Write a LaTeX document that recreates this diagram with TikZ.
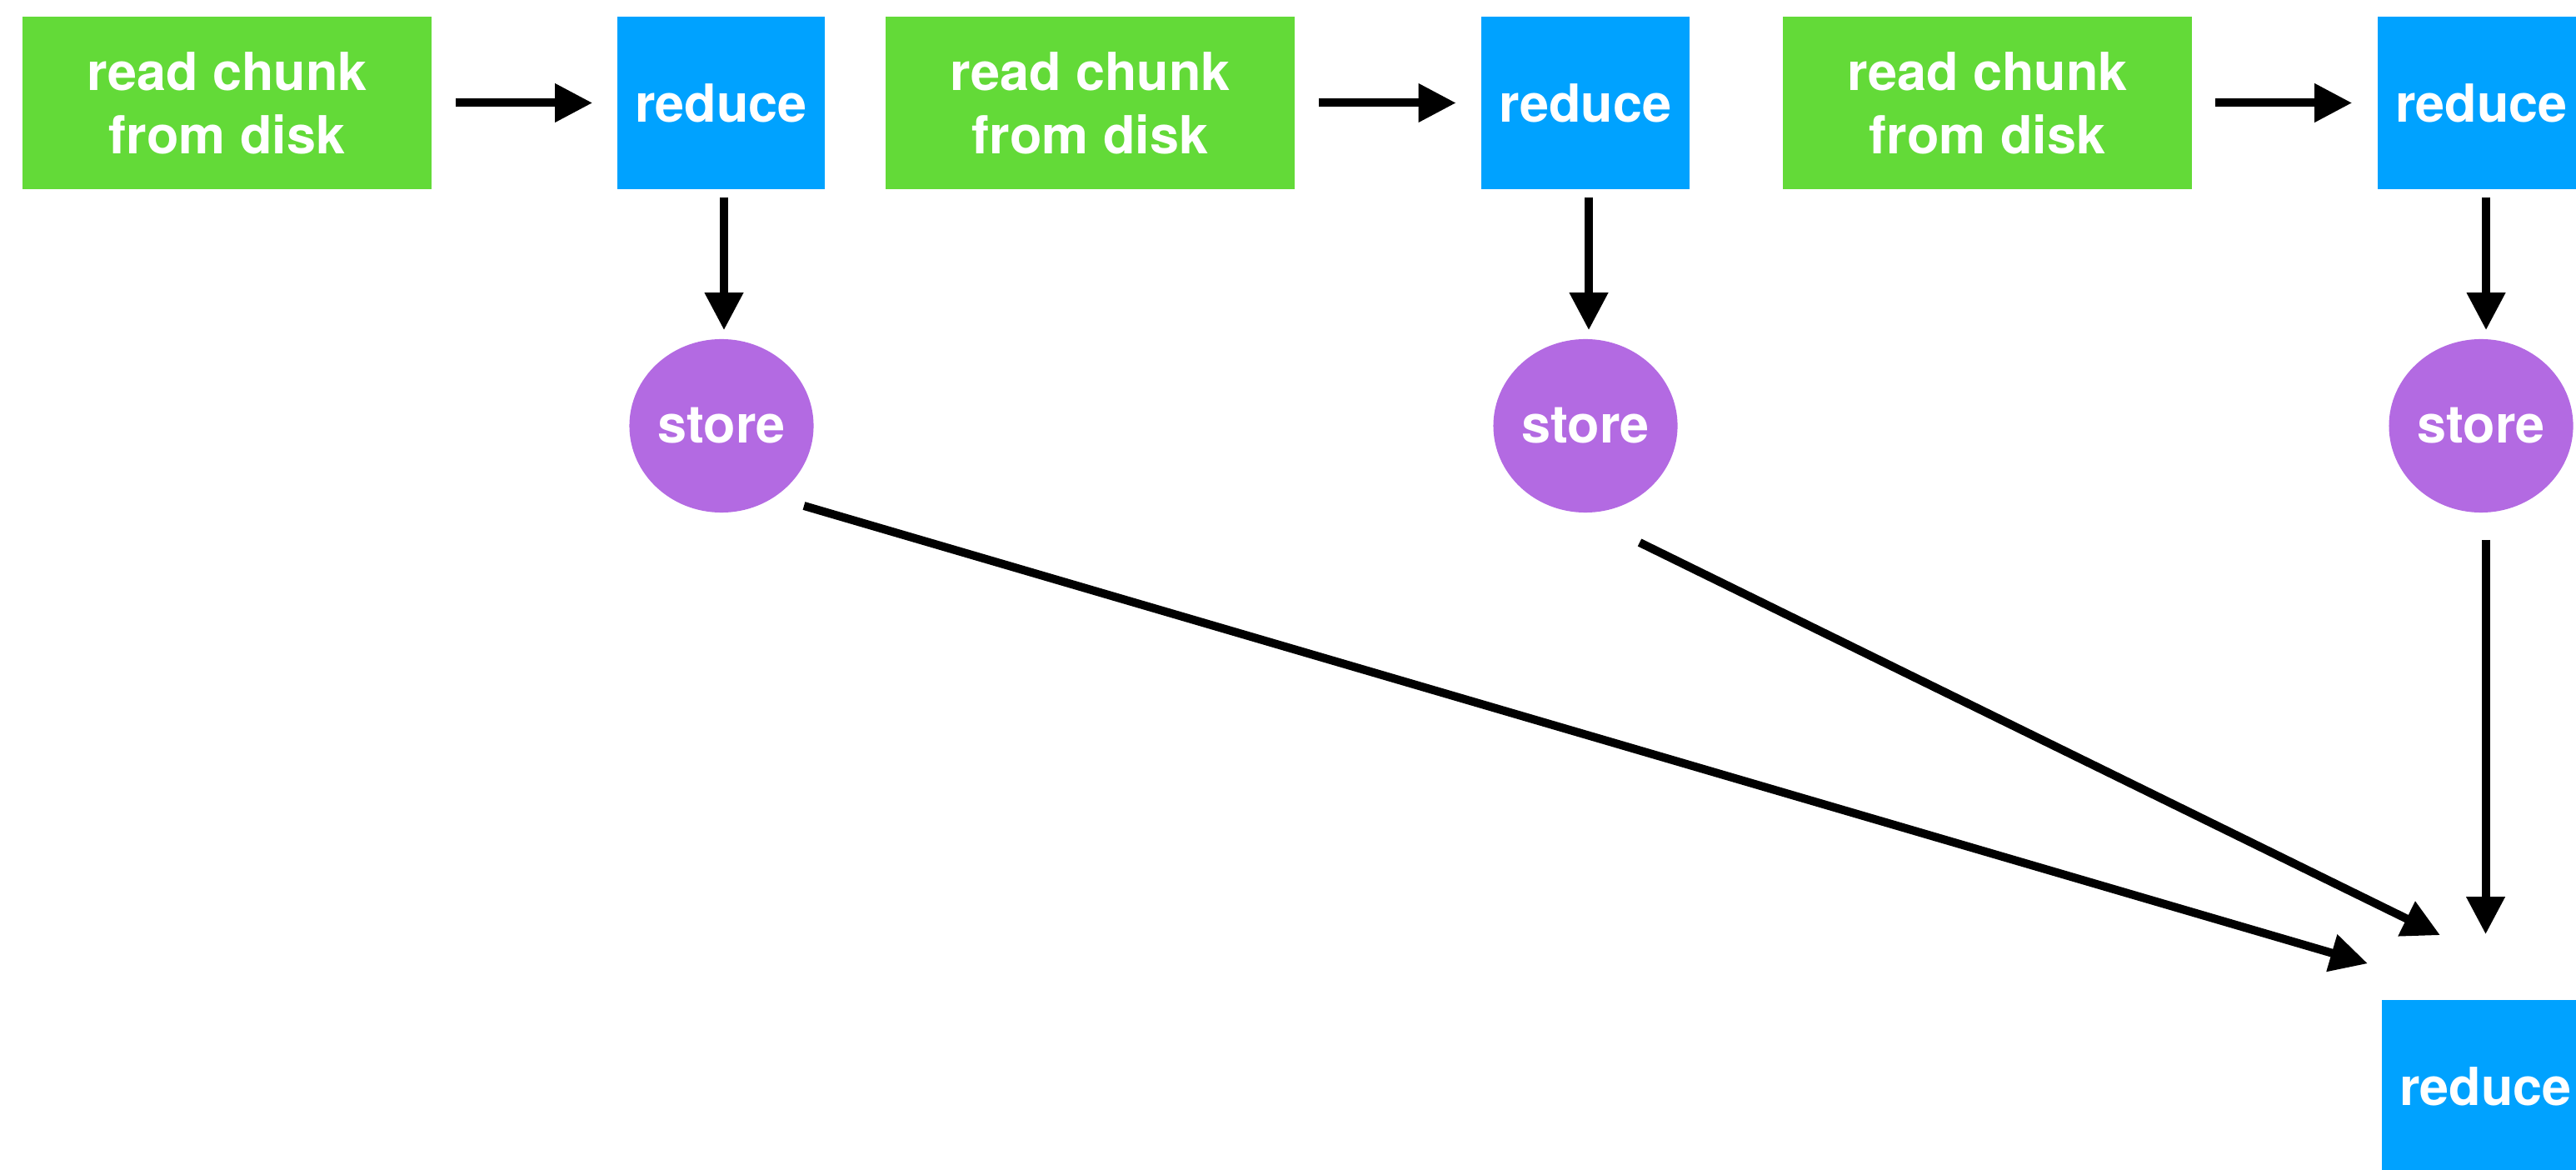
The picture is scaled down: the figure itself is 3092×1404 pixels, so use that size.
\documentclass[tikz,border=0pt]{standalone}
\usepackage{fontspec}
\setmainfont{TeX Gyre Heros}
\usetikzlibrary{arrows.meta,shapes.geometric,calc}
\definecolor{kgreen}{RGB}{99,218,56}
\definecolor{kblue}{RGB}{0,162,255}
\definecolor{kpurple}{RGB}{179,106,226}
\begin{document}
\begin{tikzpicture}[x=0.01cm,y=-0.01cm,
  lbl/.style={text=white, font=\bfseries\fontsize{17.9pt}{21.6pt}\selectfont, align=center},
  box/.style={rectangle, inner sep=0pt, minimum height=2.07cm, lbl},
  readbox/.style={box, fill=kgreen, minimum width=4.90cm},
  redbox/.style={box, fill=kblue, minimum width=2.49cm},
  storenode/.style={ellipse, inner sep=0pt, fill=kpurple, minimum width=2.21cm, minimum height=2.08cm, lbl},
  arr/.style={line width=0.1cm, -{Triangle[length=0.45cm,width=0.44cm]}}]
\useasboundingbox (0,0) rectangle (3092,1404);
\clip (0,0) rectangle (3092,1404);
% row of nodes
\node[readbox] (g1) at (272.5,123.5) {read chunk\\from disk};
\node[redbox]  (r1) at (865.5,123.5) {reduce};
\node[storenode] (s1) at (866,511) {store};
\node[readbox] (g2) at (1308.5,123.5) {read chunk\\from disk};
\node[redbox]  (r2) at (1903,123.5) {reduce};
\node[storenode] (s2) at (1903,511) {store};
\node[readbox] (g3) at (2385.5,123.5) {read chunk\\from disk};
\node[redbox]  (r3) at (2978.5,123.5) {reduce};
\node[storenode] (s3) at (2978,511) {store};
\node[redbox]  (rf) at (2983.5,1303.5) {reduce};
% free ends of the merging arrows
\coordinate (s1out) at ($(s1)+(99,96)$);
\coordinate (s2out) at ($(s2)+(65,140)$);
\coordinate (rfin1) at ($(rf.north)+(-141.5,-43)$);
\coordinate (rfin2) at ($(rf.north)+(-54.5,-77)$);
% connectors
\draw[arr, shorten <=0.29cm, shorten >=0.29cm] (g1.east) -- (r1.west);
\draw[arr, shorten <=0.29cm, shorten >=0.30cm] (g2.east) -- (r2.west);
\draw[arr, shorten <=0.28cm, shorten >=0.30cm] (g3.east) -- (r3.west);
\draw[arr, shorten <=0.09cm, shorten >=0.10cm] ($(r1.south)+(3.5,0)$) -- ($(s1.north)+(3,0)$);
\draw[arr, shorten <=0.09cm, shorten >=0.10cm] ($(r2.south)+(4,0)$) -- ($(s2.north)+(4,0)$);
\draw[arr, shorten <=0.09cm, shorten >=0.10cm] ($(r3.south)+(5.5,0)$) -- ($(s3.north)+(6,0)$);
\draw[arr, shorten <=0.32cm, shorten >=0.78cm] ($(s3.south)+(5.5,0)$) -- (rf.north);
\draw[arr] (s1out) -- (rfin1);
\draw[arr] (s2out) -- (rfin2);
\end{tikzpicture}
\end{document}
